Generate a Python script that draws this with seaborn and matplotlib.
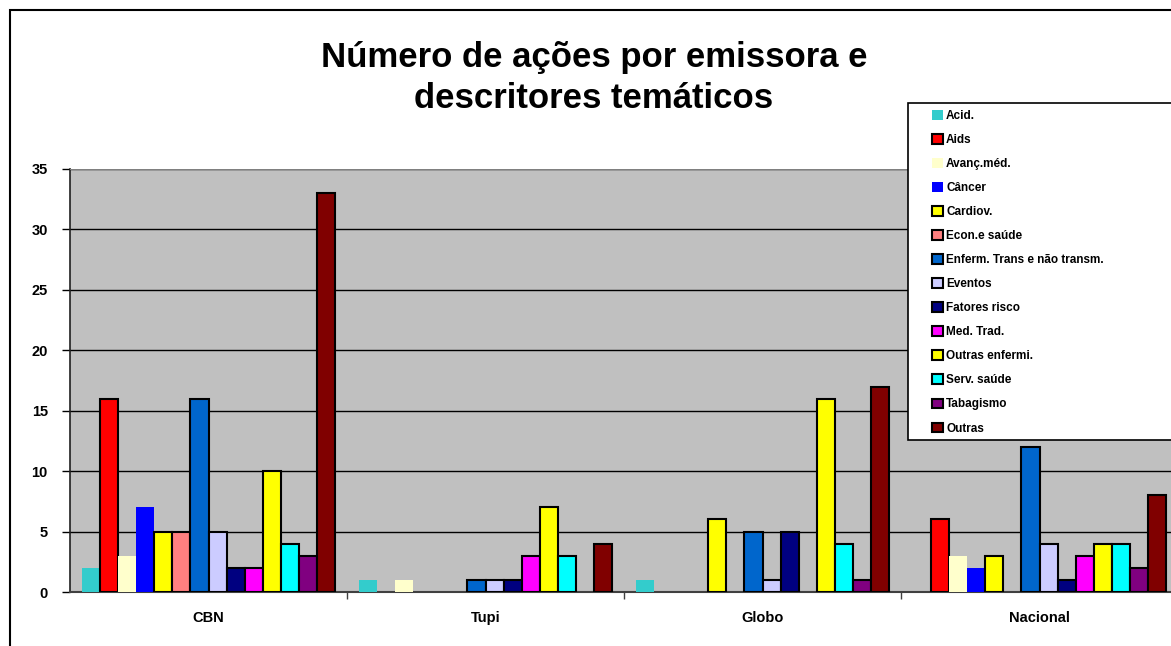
import numpy as np
import pandas as pd
import matplotlib
matplotlib.use('Agg')
import matplotlib.pyplot as plt
from matplotlib.patches import Rectangle
import seaborn as sns

# categorias e valores
emissoras = ['CBN', 'Tupi', 'Globo', 'Nacional']
descritores = ['Acid.', 'Aids', 'Avanç.méd.', 'Câncer', 'Cardiov.', 'Econ.e saúde',
               'Enferm. Trans e não transm.', 'Eventos', 'Fatores risco', 'Med. Trad.',
               'Outras enfermi.', 'Serv. saúde', 'Tabagismo', 'Outras']
cbn      = [2, 16, 3, 7, 5, 5, 16, 5, 2, 2, 10, 4, 3, 33]
tupi     = [1, 0, 1, 0, 0, 0, 1, 1, 1, 3, 7, 3, 0, 4]
globo    = [1, 0, 0, 0, 6, 0, 5, 1, 5, 0, 16, 4, 1, 17]
nacional = [0, 6, 3, 2, 3, 0, 12, 4, 1, 3, 4, 4, 2, 8]
cores = ['#33CCCC', '#FF0000', '#FFFFCC', '#0000FF', '#FFFF00', '#FF8080', '#0066CC',
         '#CCCCFF', '#000080', '#FF00FF', '#FFFF00', '#00FFFF', '#800080', '#800000']
sem_borda = ['Acid.', 'Avanç.méd.', 'Câncer']

rows = []
for em, vals in zip(emissoras, [cbn, tupi, globo, nacional]):
    for d, v in zip(descritores, vals):
        rows.append({'emissora': em, 'descritor': d, 'n': v})
df = pd.DataFrame(rows)

sns.set_style('white')
plt.rcParams['font.family'] = ['Liberation Sans', 'DejaVu Sans']
plt.rcParams['text.color'] = 'black'
plt.rcParams['xtick.color'] = 'black'
plt.rcParams['ytick.color'] = 'black'

fig = plt.figure(figsize=(11.71, 6.46), dpi=100)
# moldura externa do grafico
fig.patches.append(Rectangle((10 / 1171, -0.05), 1.1, 1 - 10 / 646 + 0.05,
                             transform=fig.transFigure, fill=False,
                             edgecolor='black', lw=1.5, zorder=0))

ax = fig.add_axes([70 / 1171, 1 - 592 / 646, 1108 / 1171, 423 / 646])
ax.set_facecolor('#C0C0C0')

sns.barplot(data=df, x='emissora', y='n', hue='descritor', order=emissoras,
            hue_order=descritores, palette=cores, width=0.91, saturation=1,
            legend=False, ax=ax, zorder=3)

for d, cont in zip(descritores, ax.containers):
    for p in cont.patches:
        if d in sem_borda or p.get_height() == 0:
            p.set_edgecolor('none')
            p.set_linewidth(0)
        else:
            p.set_edgecolor('black')
            p.set_linewidth(1.5)

ax.set_ylim(0, 35)
ax.set_xlim(-0.5, 3.5)
ax.set_yticks(range(0, 36, 5))
ax.yaxis.grid(True, color='black', lw=1)
ax.set_axisbelow(True)
ax.set_xlabel('')
ax.set_ylabel('')

for s in ['top', 'right']:
    ax.spines[s].set_visible(False)
ax.spines['left'].set_color('#202020')
ax.spines['left'].set_linewidth(1.2)
ax.spines['bottom'].set_color('#404040')
ax.spines['bottom'].set_linewidth(1.5)
ax.axhline(35, color='#808080', lw=1.5, zorder=4)

ax.tick_params(axis='y', which='major', left=True, length=6, width=1,
               color='black', labelcolor='black', pad=10, labelsize=10.5)
ax.tick_params(axis='x', which='major', length=0, pad=14, labelsize=10.5,
               labelcolor='black')
ax.set_xticks([0.5, 1.5, 2.5], minor=True)
ax.tick_params(axis='x', which='minor', bottom=True, length=5, width=1, color='#404040')
for lab in ax.get_xticklabels() + ax.get_yticklabels():
    lab.set_fontweight('bold')

fig.text(594 / 1171, 1 - 78 / 646, 'Número de ações por emissora e\ndescritores temáticos',
         ha='center', va='center', fontsize=25, fontweight='bold', linespacing=1.3,
         color='black')

# caixa da legenda
fig.patches.append(Rectangle((908 / 1171, 1 - 440 / 646), 0.3, (440 - 103) / 646,
                             transform=fig.transFigure, facecolor='white',
                             edgecolor='black', lw=1.2, zorder=5))
leg = fig.legend(ax.containers, descritores, loc='upper left',
                 bbox_to_anchor=(932 / 1171, 1 - 110 / 646), frameon=False,
                 borderpad=0, borderaxespad=0, handlelength=0.9, handleheight=0.9,
                 handletextpad=0.3, labelspacing=1.02,
                 prop={'size': 8.5, 'weight': 'bold'})
leg.set_zorder(6)

fig.savefig('out.png', dpi=100)
